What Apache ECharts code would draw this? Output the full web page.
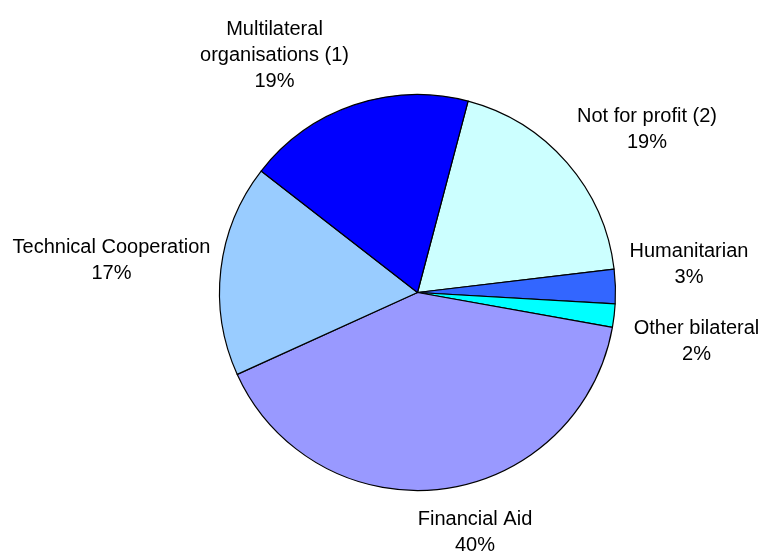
<!DOCTYPE html>
<html>
<head>
<meta charset="utf-8">
<script src="https://cdn.jsdelivr.net/npm/echarts@6/dist/echarts.min.js"></script>
<style>
  html, body { margin: 0; padding: 0; background: #ffffff; }
  #chart { width: 760px; height: 554px; }
</style>
</head>
<body>
<div id="chart"></div>
<script>
// Data (clockwise from the top boundary)
var categories = [
  'Not for profit (2)',
  'Humanitarian',
  'Other bilateral',
  'Financial Aid',
  'Technical Cooperation',
  'Multilateral\norganisations (1)'
];
var shares = [19.0, 2.8, 1.9, 40.4, 17.3, 18.6];
var sliceColors = ['#CCFFFF', '#3366FF', '#00FFFF', '#9999FF', '#99CCFF', '#0000FF'];

// Layout: label block centers (px)
var labelCenters = [
  [647, 129],
  [689, 264.5],
  [696.5, 341],
  [475, 532],
  [111.5, 260],
  [274.5, 55]
];

var chart = echarts.init(document.getElementById('chart'), null, { renderer: 'canvas' });

var pieData = categories.map(function (name, i) {
  return { name: name, value: shares[i], itemStyle: { color: sliceColors[i] } };
});

chart.setOption({
  animation: false,
  backgroundColor: '#ffffff',
  series: [{
    type: 'pie',
    center: [417.5, 292.5],
    radius: [0, 198],
    startAngle: 75.2,
    clockwise: true,
    avoidLabelOverlap: false,
    percentPrecision: 0,
    emphasis: { disabled: true },
    itemStyle: { borderColor: '#000000', borderWidth: 1.2 },
    label: {
      show: true,
      position: 'outside',
      formatter: '{b}\n{d}%',
      color: '#000000',
      fontFamily: 'Arial, "Liberation Sans", sans-serif',
      fontSize: 20,
      lineHeight: 26,
      align: 'center'
    },
    labelLine: { show: false },
    labelLayout: function (params) {
      var p = labelCenters[params.dataIndex];
      return { x: p[0], y: p[1], align: 'center', verticalAlign: 'middle' };
    },
    data: pieData
  }]
});
</script>
</body>
</html>
